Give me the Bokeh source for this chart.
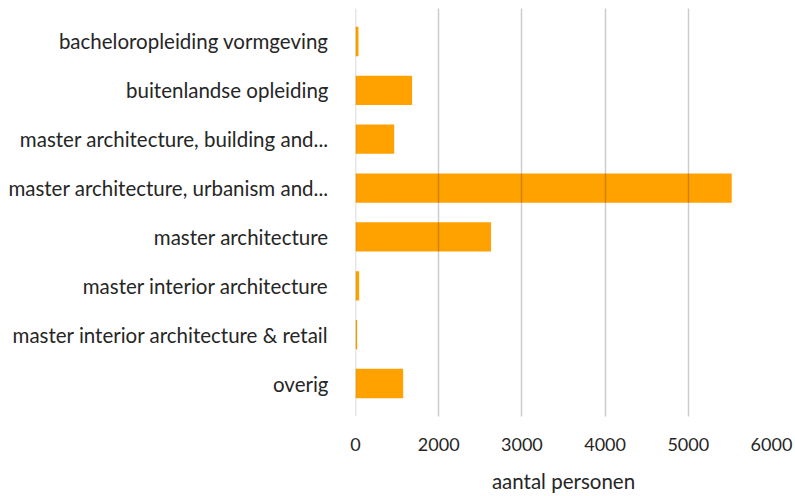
from bokeh.plotting import figure
from bokeh.models import FactorRange, Range1d, FixedTicker, ColumnDataSource, Span
from bokeh.embed import file_html
from bokeh.resources import INLINE

categories = [
    "bacheloropleiding vormgeving",
    "buitenlandse opleiding",
    "master architecture, building and...",
    "master architecture, urbanism and...",
    "master architecture",
    "master interior architecture",
    "master interior architecture & retail",
    "overig",
]
values = [1036, 1680, 1465, 5522, 2629, 1044, 1020, 1573]
tick_values = [1000, 2000, 3000, 4000, 5000, 6000]
tick_labels = ["0", "2000", "3000", "4000", "5000", "6000"]

BASE = tick_values[0]
FONT = "Lato"
TEXT = "#262626"

src = ColumnDataSource(dict(cat=categories, val=values, base=[BASE] * len(values)))

p = figure(
    y_range=FactorRange(factors=list(reversed(categories)), range_padding=0.175,
                        range_padding_units="absolute"),
    x_range=Range1d(BASE, 6000),
    frame_width=416, frame_height=408,
    output_backend="svg", toolbar_location=None,
    min_border_left=355, min_border_right=24, min_border_top=8, min_border_bottom=0,
)
p.hbar(y="cat", left="base", right="val", height=0.6, source=src,
       fill_color="#FFA200", line_color=None)

p.outline_line_color = None
p.ygrid.grid_line_color = None
p.xgrid.grid_line_color = "black"
p.xgrid.grid_line_alpha = 0.2
p.xgrid.grid_line_width = 1.5
p.xgrid.level = "annotation"
p.add_layout(Span(location=BASE, dimension="height", line_color="black",
                  line_alpha=0.2, line_width=1.5, level="annotation"))

p.xaxis.ticker = FixedTicker(ticks=tick_values)
p.xaxis.major_label_overrides = {t: l for t, l in zip(tick_values, tick_labels)}
p.xaxis.axis_line_color = None
p.yaxis.axis_line_color = None
for ax in (p.xaxis, p.yaxis):
    ax.major_tick_line_color = None
    ax.minor_tick_line_color = None
    ax.major_tick_out = 0
    ax.major_tick_in = 0
    ax.major_label_text_font = FONT
    ax.major_label_text_color = TEXT
p.xaxis.major_label_text_font_size = "18px"
p.yaxis.major_label_text_font_size = "20.5px"
p.xaxis.major_label_standoff = 21
p.yaxis.major_label_standoff = 27
p.xaxis.axis_label = "aantal personen"
p.xaxis.axis_label_text_font = FONT
p.xaxis.axis_label_text_font_size = "20.5px"
p.xaxis.axis_label_text_font_style = "normal"
p.xaxis.axis_label_text_color = TEXT
p.xaxis.axis_label_standoff = 15

open("out.html", "w").write(file_html(p, INLINE))
